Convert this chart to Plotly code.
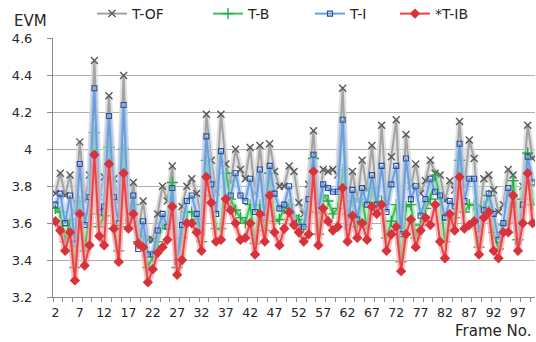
import plotly.graph_objects as go

# Frame numbers on the category axis
frames = list(range(2, 101))

# EVM per frame for each scheme
evm_t_of = [3.76, 3.87, 3.75, 3.86, 3.66, 4.04, 3.72, 3.86, 4.48, 3.74,
            3.85, 4.29, 3.84, 3.72, 4.40, 3.63, 3.82, 3.55, 3.72, 3.51,
            3.51, 3.65, 3.80, 3.72, 3.91, 3.42, 3.69, 3.80, 3.84, 3.76,
            3.62, 4.19, 3.94, 3.77, 4.19, 3.92, 3.82, 4.00, 3.89, 3.84,
            4.01, 3.76, 4.02, 3.73, 4.03, 3.88, 3.80, 3.80, 3.91, 3.88,
            3.71, 3.65, 3.81, 4.10, 3.67, 3.89, 3.88, 3.89, 3.86, 4.33,
            3.70, 3.88, 3.72, 3.94, 3.78, 4.02, 3.73, 4.13, 3.72, 3.96,
            4.16, 3.58, 4.08, 3.80, 3.92, 3.76, 3.83, 3.94, 3.87, 3.86,
            3.72, 3.83, 3.78, 4.15, 3.80, 4.05, 3.95, 3.62, 3.84, 3.86,
            3.78, 3.66, 3.70, 3.89, 3.86, 3.58, 3.80, 4.13, 3.95]

evm_t_b = [3.68, 3.66, 3.50, 3.62, 3.36, 3.72, 3.45, 3.65, 4.09, 3.58,
           3.64, 4.01, 3.57, 3.45, 4.00, 3.58, 3.70, 3.50, 3.53, 3.36,
           3.42, 3.50, 3.60, 3.57, 3.82, 3.36, 3.52, 3.66, 3.66, 3.62,
           3.50, 3.94, 3.75, 3.57, 3.57, 3.87, 3.73, 3.67, 3.63, 3.60,
           3.70, 3.49, 3.70, 3.56, 3.87, 3.61, 3.62, 3.68, 3.70, 3.64,
           3.62, 3.58, 3.66, 3.95, 3.54, 3.75, 3.72, 3.65, 3.68, 3.89,
           3.65, 3.72, 3.58, 3.73, 3.57, 3.79, 3.68, 3.72, 3.52, 3.61,
           3.70, 3.39, 3.69, 3.70, 3.52, 3.59, 3.68, 3.73, 3.86, 3.73,
           3.50, 3.62, 3.63, 3.94, 3.66, 3.70, 3.70, 3.47, 3.69, 3.75,
           3.55, 3.46, 3.59, 3.60, 3.83, 3.51, 3.73, 3.98, 3.70]

evm_t_i = [3.70, 3.76, 3.60, 3.75, 3.49, 3.92, 3.59, 3.74, 4.33, 3.66,
           3.69, 4.18, 3.74, 3.60, 4.24, 3.61, 3.75, 3.46, 3.61, 3.43,
           3.43, 3.56, 3.65, 3.58, 3.79, 3.39, 3.59, 3.72, 3.75, 3.65,
           3.55, 4.07, 3.81, 3.65, 3.99, 3.70, 3.75, 3.87, 3.75, 3.72,
           3.84, 3.66, 3.89, 3.63, 3.91, 3.76, 3.68, 3.70, 3.80, 3.60,
           3.58, 3.58, 3.73, 3.97, 3.67, 3.81, 3.79, 3.77, 3.77, 4.16,
           3.58, 3.78, 3.62, 3.79, 3.70, 3.86, 3.70, 3.91, 3.66, 3.81,
           3.91, 3.54, 3.95, 3.73, 3.80, 3.64, 3.73, 3.84, 3.77, 3.75,
           3.63, 3.72, 3.69, 4.03, 3.72, 3.84, 3.84, 3.54, 3.67, 3.76,
           3.65, 3.51, 3.60, 3.79, 3.70, 3.50, 3.70, 3.96, 3.82]

evm_t_ib = [3.61, 3.56, 3.45, 3.55, 3.29, 3.65, 3.37, 3.48, 3.97, 3.53,
            3.48, 3.92, 3.57, 3.39, 3.87, 3.57, 3.65, 3.49, 3.47, 3.28,
            3.35, 3.44, 3.47, 3.51, 3.69, 3.32, 3.40, 3.60, 3.60, 3.55,
            3.45, 3.85, 3.71, 3.50, 3.51, 3.73, 3.67, 3.60, 3.51, 3.52,
            3.60, 3.43, 3.65, 3.50, 3.75, 3.55, 3.48, 3.57, 3.66, 3.59,
            3.55, 3.50, 3.54, 3.88, 3.48, 3.68, 3.61, 3.56, 3.58, 3.79,
            3.50, 3.64, 3.52, 3.60, 3.51, 3.69, 3.65, 3.70, 3.45, 3.54,
            3.58, 3.34, 3.54, 3.62, 3.47, 3.56, 3.63, 3.59, 3.70, 3.50,
            3.41, 3.65, 3.56, 3.85, 3.57, 3.59, 3.61, 3.43, 3.63, 3.66,
            3.45, 3.41, 3.55, 3.55, 3.75, 3.45, 3.60, 3.87, 3.60]

x_tick_vals = list(range(2, 98, 5))
y_tick_vals = [3.2, 3.4, 3.6, 3.8, 4.0, 4.2, 4.4, 4.6]
y_tick_text = ["3.2", "3.4", "3.6", "3.8", "4", "4.2", "4.4", "4.6"]

W, H = 536, 342
ML, MR, MT, MB = 53, 1, 32, 45
PW, PH = W - ML - MR, H - MT - MB
FONT = "DejaVu Sans"
TEXT = "#262626"


def px_x(px):
    return (px - ML) / PW


def px_y(py):
    return (H - MB - py) / PH


series = [
    # name, values, line colour, glow colour, marker, legend id, legend left px
    ("T-OF", evm_t_of, "#a3a3a3", "#d6d6d6",
     dict(symbol="x-thin", size=7, color="#595959", line=dict(width=1.4, color="#595959")),
     "legend", 92),
    ("T-B", evm_t_b, "#3fc05c", "#a6e3b2",
     dict(symbol="cross-thin", size=8, color="#27a845", line=dict(width=1.4, color="#27a845")),
     "legend2", 208),
    ("T-I", evm_t_i, "#6b9edd", "#b3cdef",
     dict(symbol="square-open", size=5, color="#2c4f92", line=dict(width=1.1, color="#2c4f92")),
     "legend3", 310),
    ("*T-IB", evm_t_ib, "#ee4146", "#f6a4a6",
     dict(symbol="diamond", size=8, color="#d8323a", line=dict(width=0)),
     "legend4", 395),
]

fig = go.Figure()
legends = {}
for name, vals, lc, gc, mk, leg, lx in series:
    # soft halo under each line
    fig.add_trace(go.Scatter(
        x=frames, y=vals, mode="lines", showlegend=False, hoverinfo="skip",
        line=dict(color=gc, width=6), opacity=0.7))
    fig.add_trace(go.Scatter(
        x=frames, y=vals, mode="lines+markers", name=name, legend=leg,
        line=dict(color=lc, width=2), marker=mk))
    legends[leg] = dict(
        xref="container", yref="container", x=lx / W, y=1 - 14 / H,
        xanchor="left", yanchor="middle", orientation="h",
        bgcolor="rgba(0,0,0,0)", itemwidth=30,
        font=dict(family=FONT, size=14, color=TEXT))

fig.update_layout(
    width=W, height=H,
    margin=dict(l=ML, r=MR, t=MT, b=MB),
    paper_bgcolor="white", plot_bgcolor="white",
    showlegend=True,
    xaxis=dict(
        range=[1.5, 100.5], tickmode="array", tickvals=x_tick_vals,
        ticks="", showgrid=False, zeroline=False,
        showline=True, linecolor="#8c8c8c", linewidth=1,
        tickfont=dict(family=FONT, size=12.5, color=TEXT),
        ticklabelstandoff=4,
        minor=dict(tickmode="array", tickvals=[1.5 + 2 * k for k in range(50)],
                   ticks="outside", ticklen=4, tickcolor="#8c8c8c", tickwidth=1,
                   showgrid=False),
    ),
    yaxis=dict(
        range=[3.2, 4.6], tickmode="array", tickvals=y_tick_vals, ticktext=y_tick_text,
        ticks="outside", ticklen=5, tickcolor="#8c8c8c",
        showgrid=True, gridcolor="#b0b0b0", gridwidth=1, zeroline=False,
        showline=True, linecolor="#8c8c8c", linewidth=1,
        tickfont=dict(family=FONT, size=13, color=TEXT),
        ticklabelstandoff=12,
    ),
    annotations=[
        dict(text="EVM", xref="paper", yref="paper", x=px_x(12), y=px_y(14),
             xanchor="left", yanchor="middle", showarrow=False,
             font=dict(family=FONT, size=15, color=TEXT)),
        dict(text="Frame No.", xref="paper", yref="paper", x=px_x(533), y=px_y(332),
             xanchor="right", yanchor="middle", showarrow=False,
             font=dict(family=FONT, size=15, color=TEXT)),
    ],
    **legends,
)

fig.write_html("out.html")
